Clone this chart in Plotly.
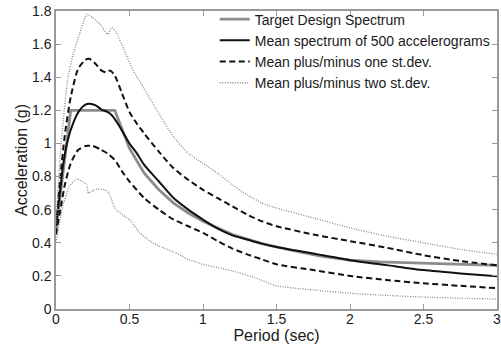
import plotly.graph_objects as go

# ---- data ----
target_T = [0.0, 0.1, 0.4, 0.45, 0.5, 0.6, 0.7, 0.8, 0.9, 1.0, 1.2, 1.4, 1.6, 1.8, 2.0, 2.2, 2.5, 3.0]
target_A = [0.48, 1.2, 1.2, 1.08, 0.97, 0.82, 0.72, 0.64, 0.58, 0.53, 0.45, 0.395, 0.355, 0.32, 0.295, 0.285, 0.276, 0.264]

mean_T = [0.0, 0.02, 0.05, 0.08, 0.12, 0.16, 0.2, 0.23, 0.27, 0.31, 0.35, 0.38, 0.42, 0.46, 0.5, 0.55, 0.6, 0.7, 0.8, 0.9, 1.0, 1.1, 1.2, 1.3, 1.4, 1.5, 1.75, 2.0, 2.25, 2.5, 2.75, 3.0]
mean_A = [0.5, 0.65, 0.88, 1.02, 1.13, 1.2, 1.235, 1.24, 1.23, 1.205, 1.19, 1.17, 1.12, 1.06, 1.0, 0.94, 0.87, 0.77, 0.67, 0.6, 0.54, 0.485, 0.445, 0.42, 0.395, 0.375, 0.335, 0.295, 0.265, 0.235, 0.215, 0.198]

p1_T = [0.0, 0.03, 0.06, 0.1, 0.15, 0.2, 0.23, 0.27, 0.31, 0.34, 0.37, 0.4, 0.45, 0.5, 0.55, 0.6, 0.7, 0.8, 0.9, 1.0, 1.1, 1.2, 1.3, 1.4, 1.5, 1.75, 2.0, 2.25, 2.5, 2.75, 3.0]
p1_A = [0.5, 0.8, 1.05, 1.28, 1.45, 1.505, 1.51, 1.48, 1.44, 1.43, 1.44, 1.41, 1.3, 1.19, 1.12, 1.06, 0.95, 0.85, 0.78, 0.72, 0.67, 0.62, 0.57, 0.53, 0.5, 0.45, 0.41, 0.37, 0.325, 0.29, 0.264]

m1_T = [0.0, 0.03, 0.06, 0.1, 0.15, 0.2, 0.25, 0.3, 0.35, 0.4, 0.45, 0.5, 0.6, 0.7, 0.8, 0.9, 1.0, 1.1, 1.2, 1.3, 1.4, 1.5, 1.75, 2.0, 2.25, 2.5, 2.75, 3.0]
m1_A = [0.45, 0.6, 0.75, 0.88, 0.96, 0.985, 0.985, 0.965, 0.94, 0.9, 0.83, 0.77, 0.67, 0.6, 0.54, 0.5, 0.46, 0.41, 0.365, 0.33, 0.3, 0.27, 0.235, 0.2, 0.175, 0.155, 0.14, 0.126]

p2_T = [0.0, 0.03, 0.08, 0.12, 0.16, 0.21, 0.25, 0.3, 0.35, 0.38, 0.41, 0.46, 0.52, 0.6, 0.7, 0.8, 0.9, 1.0, 1.1, 1.2, 1.3, 1.4, 1.5, 1.75, 2.0, 2.25, 2.5, 2.75, 3.0]
p2_A = [0.5, 0.95, 1.39, 1.55, 1.66, 1.78, 1.76, 1.72, 1.66, 1.70, 1.67, 1.57, 1.45, 1.33, 1.18, 1.04, 0.94, 0.88, 0.82, 0.75, 0.69, 0.64, 0.61, 0.55, 0.49, 0.44, 0.40, 0.36, 0.33]

m2_T = [0.0, 0.04, 0.09, 0.14, 0.18, 0.21, 0.22, 0.25, 0.28, 0.33, 0.36, 0.4, 0.45, 0.5, 0.57, 0.64, 0.7, 0.8, 0.9, 1.0, 1.1, 1.2, 1.35, 1.5, 1.75, 2.0, 2.25, 2.5, 2.75, 3.0]
m2_A = [0.40, 0.6, 0.74, 0.786, 0.77, 0.75, 0.70, 0.715, 0.725, 0.72, 0.70, 0.61, 0.57, 0.54, 0.46, 0.41, 0.38, 0.345, 0.30, 0.27, 0.25, 0.23, 0.19, 0.14, 0.115, 0.095, 0.082, 0.072, 0.065, 0.06]

x_ticks = [0, 0.5, 1, 1.5, 2, 2.5, 3]
x_labels = ["0", "0.5", "1", "1.5", "2", "2.5", "3"]
y_ticks = [0, 0.2, 0.4, 0.6, 0.8, 1.0, 1.2, 1.4, 1.6, 1.8]
y_labels = ["0", "0.2", "0.4", "0.6", "0.8", "1", "1.2", "1.4", "1.6", "1.8"]

FONT = "Arial, Liberation Sans, sans-serif"
DASH = "6px,3.5px"
DOT = "1px,1.5px"

fig = go.Figure()
fig.add_trace(go.Scatter(x=target_T, y=target_A, mode="lines", name="Target Design Spectrum",
                         line=dict(color="#8c8c8c", width=2.8)))
fig.add_trace(go.Scatter(x=mean_T, y=mean_A, mode="lines", name="Mean spectrum of 500 accelerograms",
                         line=dict(color="#111111", width=2, shape="spline", smoothing=0.6)))
fig.add_trace(go.Scatter(x=p1_T, y=p1_A, mode="lines", name="Mean plus/minus one st.dev.",
                         legendgroup="s1",
                         line=dict(color="#111111", width=2, dash=DASH, shape="spline", smoothing=0.6)))
fig.add_trace(go.Scatter(x=m1_T, y=m1_A, mode="lines", showlegend=False, legendgroup="s1",
                         line=dict(color="#111111", width=2, dash=DASH, shape="spline", smoothing=0.6)))
fig.add_trace(go.Scatter(x=p2_T, y=p2_A, mode="lines", name="Mean plus/minus two st.dev.",
                         legendgroup="s2",
                         line=dict(color="#858585", width=1.3, dash=DOT, shape="spline", smoothing=0.5)))
fig.add_trace(go.Scatter(x=m2_T, y=m2_A, mode="lines", showlegend=False, legendgroup="s2",
                         line=dict(color="#858585", width=1.3, dash=DOT, shape="spline", smoothing=0.5)))

axis_common = dict(showline=True, linecolor="#9a9a9a", linewidth=1.5, mirror="ticks",
                   ticks="inside", ticklen=5, tickcolor="#9a9a9a", showgrid=False, zeroline=False,
                   automargin=False, ticklabeloverflow="allow",
                   tickfont=dict(family=FONT, size=14, color="#1a1a1a"))

fig.update_xaxes(range=[0, 3], tickvals=x_ticks, ticktext=x_labels, ticklabelstandoff=-4,
                 title=dict(text="Period (sec)", font=dict(family=FONT, size=16, color="#1a1a1a"), standoff=0),
                 **axis_common)
fig.update_yaxes(range=[0, 1.8], tickvals=y_ticks, ticktext=y_labels,
                 title=dict(text="Acceleration (g)", font=dict(family=FONT, size=16, color="#1a1a1a"), standoff=0),
                 **axis_common)

fig.update_layout(
    width=501, height=345,
    margin=dict(l=56, r=4, t=9, b=36),
    paper_bgcolor="white", plot_bgcolor="white",
    font=dict(family=FONT, color="#1a1a1a"),
    legend=dict(x=0.36, y=1.025, xanchor="left", yanchor="top",
                bgcolor="rgba(0,0,0,0)", borderwidth=0,
                font=dict(family=FONT, size=14, color="#1a1a1a"),
                itemwidth=30, tracegroupgap=0),
)

fig.write_html("out.html", config={"displayModeBar": False},
               post_script="document.body.style.margin='0';document.body.style.padding='0';")
